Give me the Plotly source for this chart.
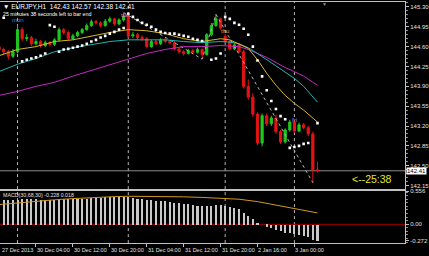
import plotly.graph_objects as go

# ---------------- data ----------------
bar_index = list(range(-4, 66))
opens = [144.60,144.55,144.51,144.43,144.51,144.90,144.74,144.76,144.65,144.69,144.62,144.67,144.64,144.72,144.90,144.85,
         144.74,144.79,144.85,144.90,144.97,145.04,145.02,144.97,145.05,145.09,145.00,145.07,145.14,144.79,144.81,144.76,
         144.74,144.60,144.69,144.65,144.72,144.69,144.67,144.56,144.51,144.48,144.53,144.50,144.55,144.46,144.81,144.97,
         145.09,144.78,144.69,144.56,144.63,144.51,143.90,143.71,143.41,142.90,143.38,143.24,143.34,143.10,142.92,143.13,
         143.27,143.11,143.22,143.17,143.06,142.43]
closes = [144.55,144.51,144.43,144.51,144.90,144.74,144.76,144.65,144.69,144.62,144.67,144.64,144.72,144.90,144.85,144.74,
          144.79,144.85,144.90,144.97,145.04,145.02,144.97,145.05,145.09,145.00,145.07,145.14,144.79,144.81,144.76,144.74,
          144.60,144.69,144.65,144.72,144.69,144.67,144.56,144.51,144.48,144.53,144.50,144.55,144.46,144.81,144.97,145.09,
          144.93,144.69,144.56,144.63,144.51,143.90,143.71,143.41,142.90,143.38,143.24,143.34,143.10,142.92,143.13,143.27,
          143.11,143.22,143.17,143.06,142.43,142.41]
highs = [144.64,144.58,144.54,144.56,144.98,144.94,144.82,144.79,144.74,144.72,144.71,144.70,144.75,144.94,144.93,144.88,
         144.83,144.88,144.93,145.01,145.08,145.07,145.05,145.09,145.13,145.11,145.10,145.20,145.16,144.86,144.84,144.80,
         144.77,144.72,144.72,144.75,144.75,144.72,144.70,144.59,144.54,144.56,144.56,144.58,144.57,144.84,145.02,145.17,
         145.11,144.82,144.72,144.66,144.66,144.54,144.02,143.78,143.44,143.42,143.42,143.38,143.40,143.13,143.16,143.31,
         143.30,143.26,143.25,143.20,143.10,142.57]
lows = [144.50,144.45,144.37,144.40,144.48,144.70,144.70,144.61,144.62,144.58,144.59,144.60,144.61,144.70,144.81,144.71,
        144.72,144.77,144.82,144.88,144.95,144.99,144.94,144.95,145.02,144.97,144.98,145.04,144.75,144.75,144.72,144.70,
        144.57,144.58,144.62,144.63,144.66,144.64,144.53,144.47,144.44,144.46,144.47,144.48,144.38,144.44,144.78,144.95,
        144.90,144.66,144.53,144.54,144.48,143.86,143.66,143.36,142.86,142.84,143.20,143.20,143.06,142.88,142.89,143.10,
        143.08,143.09,143.14,143.02,142.20,142.38]

ma_bars = [-4,0,4,8,12,16,20,24,28,32,36,40,44,46,48,50,52,54,56,58,60,62,64,65]
ma_fast = [144.44,144.55,144.60,144.69,144.72,144.79,144.85,144.90,144.88,144.83,144.74,144.69,144.74,144.72,144.65,144.57,
           144.37,144.13,143.92,143.74,143.60,143.48,143.34,143.27]
ma_mid = [144.16,144.29,144.39,144.51,144.58,144.64,144.69,144.72,144.72,144.72,144.69,144.67,144.69,144.68,144.65,144.58,
          144.48,144.37,144.27,144.16,144.04,143.90,143.71,143.62]
ma_slow = [143.74,143.81,143.90,143.97,144.08,144.18,144.29,144.39,144.48,144.55,144.60,144.60,144.62,144.61,144.60,144.55,
           144.48,144.41,144.32,144.23,144.16,144.08,143.97,143.92]

sar_bars = [-3,1,2,3,4,5,6,7,8,9,10,11,12,13,14,15,16,17,18,19,20,21,22,23,24,25,26,27,28,29,30,31,32,33,34,35,36,37,38,39,40,
            42,43,44,45,46,47,48,49,50,51,52,53,54,55,56,57,58,59,60,61,62,63,65]
sar_vals = [145.11,144.34,144.37,144.39,144.41,144.44,144.48,144.98,144.95,144.51,144.55,144.56,144.58,144.60,144.62,144.65,
            144.69,144.72,144.76,144.79,144.83,144.86,144.90,144.93,145.18,145.125,145.07,145.02,144.985,144.95,144.90,144.86,
            144.84,144.83,144.83,144.81,144.79,144.775,144.74,144.72,144.70,144.37,144.39,144.48,145.125,145.09,145.02,144.985,
            144.915,144.81,144.60,144.355,144.075,143.83,143.64,143.50,143.375,143.32,142.815,142.83,142.85,142.885,142.90,143.25]

zigzag_bars = [23, 40, 43, 64]
zigzag_vals = [145.20, 144.38, 145.17, 142.20]

macd_hist = [0.42,0.42,0.41,0.41, 0.42,0.43,0.43,0.43,0.43,0.42,0.42,0.42,0.42,
             0.43,0.43,0.43,0.43,0.43,0.44,0.44,0.45,0.45,0.45,0.46,0.46,0.46,0.46,0.47,
             0.46,0.45,0.44,0.43,0.42,0.41,0.40,0.40,0.39,0.38,0.37,0.36,0.35,0.34,0.33,0.32,0.31,
             0.31,0.32,0.33,0.33,0.31,0.29,0.28,0.26,
             0.20,0.15,0.10,0.03,0.00,-0.03,-0.05,-0.08,-0.11,-0.13,-0.14,-0.16,-0.17,-0.19,-0.21,-0.25,-0.27]
sig_bars = [-4,0,4,8,12,16,20,24,28,32,36,40,44,48,52,56,60,64,65]
sig_vals = [0.33,0.36,0.39,0.41,0.43,0.45,0.46,0.47,0.47,0.47,0.46,0.45,0.44,0.42,0.38,0.32,0.26,0.20,0.19]

separator_bars = [0, 24, 45, 60]
xtick_bars = [-3.6, 4, 12, 20, 28, 36, 44, 52, 60]
xtick_text = ["27 Dec 2013", "30 Dec 04:00", "30 Dec 12:00", "30 Dec 20:00", "31 Dec 04:00",
              "31 Dec 12:00", "31 Dec 20:00", "2 Jan 16:00", "3 Jan 00:00"]
price_ticks = [145.30, 144.95, 144.60, 144.25, 143.90, 143.55, 143.20, 142.85, 142.50, 142.15]
price_tick_text = ["145.30", "144.95", "144.60", "144.25", "143.90", "143.55", "143.20", "142.85", "142.50", "142.15"]
macd_ticks = [0.556, 0.0, -0.272]
macd_tick_text = ["0.556", "0.00", "-0.272"]
day_labels = ["mon", "tue", "thu", "fri"]
day_bars = [0, 23.5, 45, 60]
day_prices = [145.07, 145.16, 144.88, 143.30]
day_colors = ["#3f8fe6", "#ff6fc8", "#e8924a", "#9a88ff"]
last_price = 142.41
ohlc_title = "\u25bc EURJPY,H1  142.43 142.57 142.38 142.41"
timer_text = "25 minutes 38 seconds left to bar end"
macd_title = "MACD(30,68,30) -0.228 0.018"

# ---------------- layout geometry ----------------
W, H = 429, 256
plot_right = 406 / W
main_dom = [1 - 188 / H, 1]
macd_dom = [1 - 243 / H, 1 - 190 / H]
xr = [-3.8, 83.98]
FONT = "Liberation Sans"
AX = "#c0c0c0"

fig = go.Figure()

# zigzag (behind candles)
fig.add_trace(go.Scatter(x=zigzag_bars, y=zigzag_vals, mode="lines",
                         line=dict(color="#b4b4b4", width=1, dash="dot"), xaxis="x", yaxis="y", hoverinfo="skip"))
# moving averages
for vals, col in [(ma_slow, "#c02ac0"), (ma_mid, "#22b4b4"), (ma_fast, "#d8b424")]:
    fig.add_trace(go.Scatter(x=ma_bars, y=vals, mode="lines", line=dict(color=col, width=1),
                             xaxis="x", yaxis="y", hoverinfo="skip"))
# candles
fig.add_trace(go.Candlestick(x=bar_index, open=opens, high=highs, low=lows, close=closes,
                             increasing=dict(line=dict(color="#1ec81e", width=1), fillcolor="#1ec81e"),
                             decreasing=dict(line=dict(color="#e41414", width=1), fillcolor="#e41414"),
                             xaxis="x", yaxis="y", hoverinfo="skip"))
# parabolic SAR
fig.add_trace(go.Scatter(x=sar_bars, y=sar_vals, mode="markers",
                         marker=dict(color="white", size=2.6, symbol="square", line=dict(width=0)),
                         xaxis="x", yaxis="y", hoverinfo="skip"))
# MACD histogram and signal
fig.add_trace(go.Bar(x=bar_index, y=macd_hist, width=0.45, marker=dict(color="#c8c8c8", line=dict(width=0)),
                     xaxis="x2", yaxis="y2", hoverinfo="skip"))
fig.add_trace(go.Scatter(x=sig_bars, y=sig_vals, mode="lines", line=dict(color="#d09a20", width=1),
                         xaxis="x2", yaxis="y2", hoverinfo="skip"))

shapes = []
for b in separator_bars:
    shapes.append(dict(type="line", xref="x", yref="paper", x0=b, x1=b, y0=macd_dom[0], y1=1,
                       line=dict(color="#b8b8b8", width=1, dash="dot"), layer="below"))
shapes.append(dict(type="line", xref="paper", yref="y", x0=0, x1=plot_right, y0=last_price, y1=last_price,
                   line=dict(color="#8c8c8c", width=1), layer="below"))
shapes.append(dict(type="line", xref="paper", yref="y2", x0=0, x1=plot_right, y0=0, y1=0,
                   line=dict(color="#b00000", width=1), layer="below"))

annotations = []
annotations.append(dict(text=ohlc_title, xref="paper", yref="paper", x=0.002, y=1 - 5 / H, xanchor="left",
                        yanchor="middle", showarrow=False, font=dict(family=FONT, size=6.5, color="white")))
annotations.append(dict(text=timer_text, xref="paper", yref="paper", x=0.002, y=1 - 12.5 / H, xanchor="left",
                        yanchor="middle", showarrow=False, font=dict(family=FONT, size=5.3, color="white")))
annotations.append(dict(text=macd_title, xref="paper", yref="paper", x=0.002, y=1 - 195 / H, xanchor="left",
                        yanchor="middle", showarrow=False, font=dict(family=FONT, size=5.3, color="#e0e0e0")))
annotations.append(dict(text="<--25:38", xref="paper", yref="paper", x=351 / W, y=1 - 178.5 / H, xanchor="left",
                        yanchor="middle", showarrow=False, font=dict(family=FONT, size=10.5, color="#e6e632")))
annotations.append(dict(text="142.41", xref="paper", yref="y", x=plot_right, y=last_price, xanchor="left",
                        yanchor="middle", showarrow=False, bgcolor="white", borderpad=0, xshift=1,
                        font=dict(family=FONT, size=6, color="black")))
annotations.append(dict(text="\u25bc", xref="paper", yref="paper", x=325 / W, y=1 - 2 / H, xanchor="center",
                        yanchor="middle", showarrow=False, font=dict(family=FONT, size=5, color="#909090")))
for t, b, p, c in zip(day_labels, day_bars, day_prices, day_colors):
    annotations.append(dict(text=t, xref="x", yref="y", x=b, y=p, showarrow=False, xanchor="center",
                            yanchor="middle", font=dict(family=FONT, size=6, color=c)))
for b, t in zip(xtick_bars, xtick_text):
    annotations.append(dict(text=t, xref="x2", yref="paper", x=b, y=1 - 250 / H, xanchor="left",
                            yanchor="middle", showarrow=False, borderpad=0,
                            font=dict(family=FONT, size=5.5, color="#e0e0e0")))

axis_common = dict(showgrid=False, zeroline=False)
fig.update_layout(
    width=W, height=H, margin=dict(l=0, r=0, t=0, b=0),
    paper_bgcolor="black", plot_bgcolor="black", showlegend=False, bargap=0, boxgap=0.32,
    xaxis=dict(domain=[0, plot_right], range=xr, anchor="y", showticklabels=False, ticks="",
               showline=True, mirror=True, linecolor=AX, linewidth=1, rangeslider=dict(visible=False), **axis_common),
    xaxis2=dict(domain=[0, plot_right], range=xr, anchor="y2", matches="x", showticklabels=False,
                tickmode="array", tickvals=xtick_bars[1:], ticks="outside", ticklen=3, tickcolor=AX,
                showline=True, mirror=True, linecolor=AX, linewidth=1, **axis_common),
    yaxis=dict(domain=main_dom, range=[142.097, 145.3875], side="right", anchor="x",
               tickmode="array", tickvals=price_ticks, ticktext=price_tick_text,
               ticks="outside", ticklen=3, tickcolor=AX, showline=True, linecolor=AX, linewidth=1,
               minor=dict(ticks="outside", ticklen=1.5, tickcolor="#909090", dtick=0.07, tick0=142.15),
               tickfont=dict(family=FONT, size=6, color="#e0e0e0"), **axis_common),
    yaxis2=dict(domain=macd_dom, range=[-0.316, 0.566], side="right", anchor="x2",
                tickmode="array", tickvals=macd_ticks, ticktext=macd_tick_text,
                ticks="outside", ticklen=3, tickcolor=AX, showline=True, linecolor=AX, linewidth=1,
                minor=dict(ticks="outside", ticklen=1.5, tickcolor="#909090", dtick=0.06),
                tickfont=dict(family=FONT, size=6, color="#e0e0e0"), **axis_common),
    shapes=shapes, annotations=annotations,
)

fig.write_html("out.html")
